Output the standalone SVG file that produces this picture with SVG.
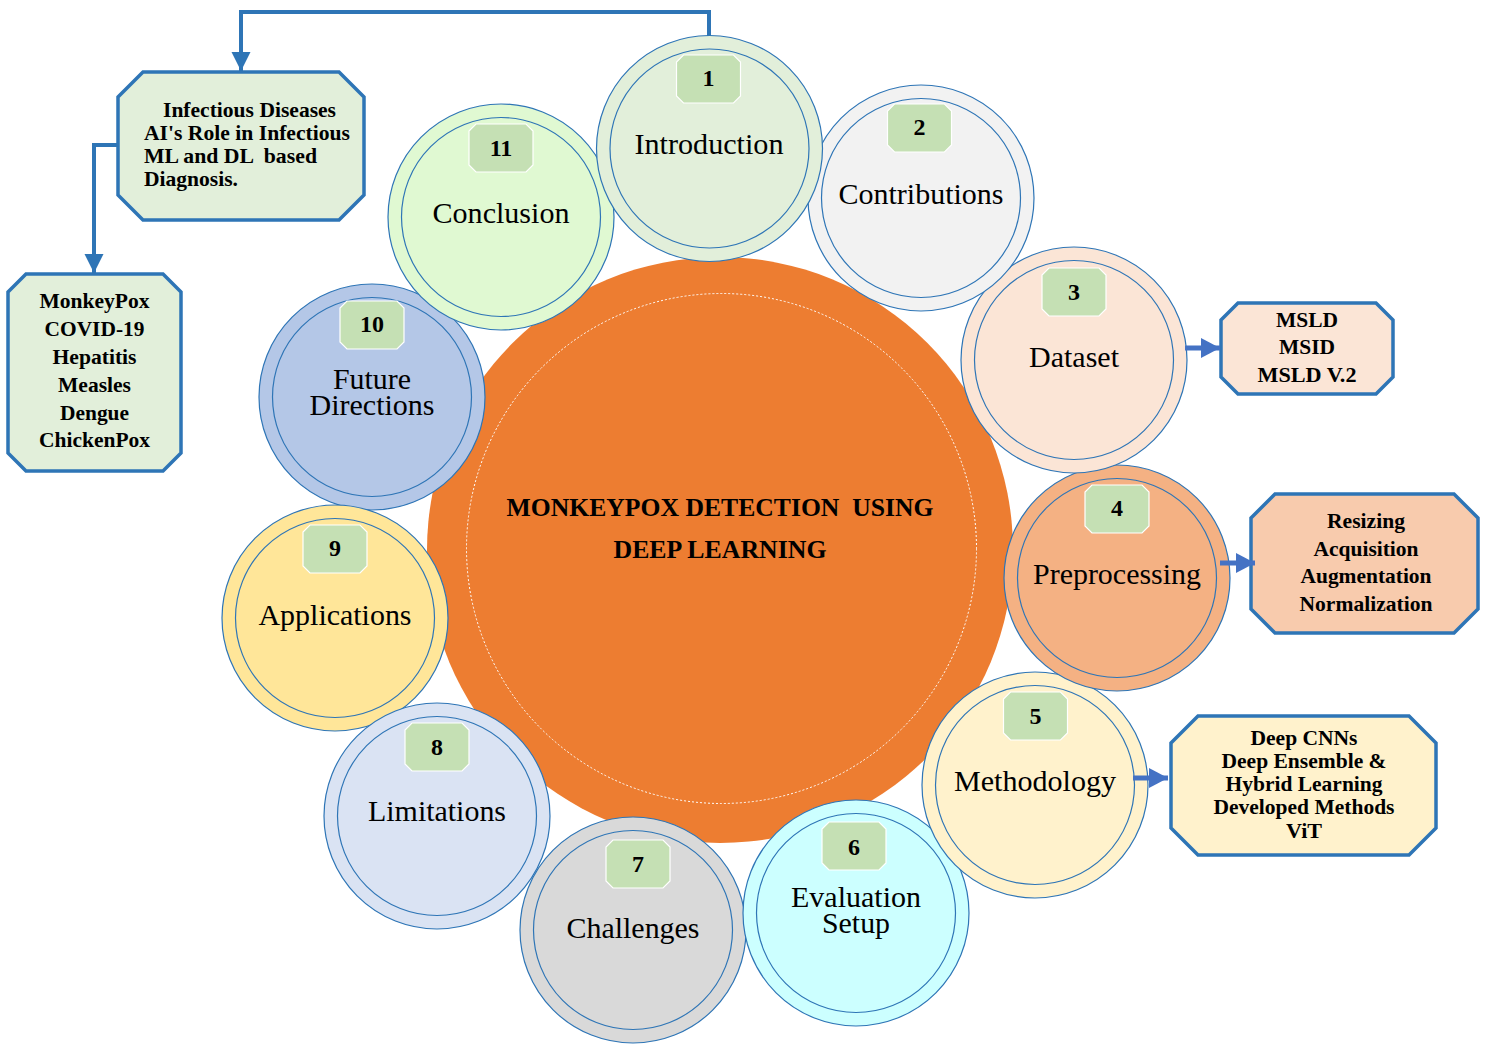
<svg xmlns="http://www.w3.org/2000/svg" width="1489" height="1044" viewBox="0 0 1489 1044">
<style>
text{font-family:"Liberation Serif","DejaVu Serif","Times New Roman",serif;fill:#000}
.ring{stroke:#2E75B6;stroke-width:1.2}
.lbl{font-size:30px;text-anchor:middle}
.num{font-size:24px;font-weight:bold;text-anchor:middle}
.box{stroke:#2E75B6;stroke-width:3.5}
.bt{font-size:21.5px;font-weight:bold}
.c{text-anchor:middle}
.title{font-size:25px;font-weight:bold;text-anchor:middle}
.conn{fill:none;stroke:#2E75B6;stroke-width:4}
.conn2{fill:none;stroke:#4472C4;stroke-width:5}
.badge{fill:#C5E0B4;stroke:#FFFFFF;stroke-width:1.2}
</style>
<defs>
<polygon id="badge" class="badge" points="-25,0 25,0 32,7 32,41 25,48 -25,48 -32,41 -32,7"/>
<marker id="ah1" markerUnits="userSpaceOnUse" markerWidth="20" markerHeight="20" refX="19" refY="10" orient="auto" viewBox="0 0 20 20">
<polygon points="0,0.5 19,10 0,19.5" fill="#2E75B6"/>
</marker>
<marker id="ah2" markerUnits="userSpaceOnUse" markerWidth="20" markerHeight="21" refX="19" refY="10.5" orient="auto" viewBox="0 0 20 21">
<polygon points="0,0.5 19,10.5 0,20.5" fill="#4472C4"/>
</marker>
</defs>
<rect width="1489" height="1044" fill="#FFFFFF"/>

<g id="center">
<circle cx="720" cy="550" r="293" fill="#ED7D31"/>
<circle cx="721.5" cy="548.5" r="255" fill="none" stroke="#FFFFFF" stroke-width="1" stroke-dasharray="2 2"/>
<text class="title" x="720" y="516" textLength="427" lengthAdjust="spacingAndGlyphs" xml:space="preserve">MONKEYPOX DETECTION  USING</text>
<text class="title" x="720" y="558" textLength="213" lengthAdjust="spacingAndGlyphs">DEEP LEARNING</text>
</g>

<g id="node10">
<circle class="ring" cx="372" cy="397" r="113" fill="#B4C7E7"/>
<circle class="ring" cx="372" cy="397" r="99.5" fill="#B4C7E7"/>
<use href="#badge" x="372" y="301"/>
<text class="num" x="372" y="332">10</text>
<text class="lbl" x="372" y="389" textLength="78" lengthAdjust="spacingAndGlyphs">Future</text>
<text class="lbl" x="372" y="415" textLength="125" lengthAdjust="spacingAndGlyphs">Directions</text>
</g>
<g id="node11">
<circle class="ring" cx="501" cy="217" r="113" fill="#E0F9D2"/>
<circle class="ring" cx="501" cy="217" r="99.5" fill="#E0F9D2"/>
<use href="#badge" x="501" y="124"/>
<text class="num" x="501" y="156">11</text>
<text class="lbl" x="501" y="223" textLength="137" lengthAdjust="spacingAndGlyphs">Conclusion</text>
</g>
<g id="node9">
<circle class="ring" cx="335" cy="618" r="113" fill="#FFE699"/>
<circle class="ring" cx="335" cy="618" r="99.5" fill="#FFE699"/>
<use href="#badge" x="335" y="525"/>
<text class="num" x="335" y="556">9</text>
<text class="lbl" x="335" y="625" textLength="153" lengthAdjust="spacingAndGlyphs">Applications</text>
</g>
<g id="node8">
<circle class="ring" cx="437" cy="816" r="113" fill="#DAE3F3"/>
<circle class="ring" cx="437" cy="816" r="99.5" fill="#DAE3F3"/>
<use href="#badge" x="437" y="723"/>
<text class="num" x="437" y="755">8</text>
<text class="lbl" x="437" y="821" textLength="138" lengthAdjust="spacingAndGlyphs">Limitations</text>
</g>
<g id="node7">
<circle class="ring" cx="633" cy="930" r="113" fill="#D9D9D9"/>
<circle class="ring" cx="633" cy="930" r="99.5" fill="#D9D9D9"/>
<use href="#badge" x="638" y="840"/>
<text class="num" x="638" y="872">7</text>
<text class="lbl" x="633" y="938" textLength="133" lengthAdjust="spacingAndGlyphs">Challenges</text>
</g>
<g id="node6">
<circle class="ring" cx="856" cy="913" r="113" fill="#CCFFFF"/>
<circle class="ring" cx="856" cy="913" r="99.5" fill="#CCFFFF"/>
<use href="#badge" x="854" y="822"/>
<text class="num" x="854" y="855">6</text>
<text class="lbl" x="856" y="907" textLength="130" lengthAdjust="spacingAndGlyphs">Evaluation</text>
<text class="lbl" x="856" y="933" textLength="68" lengthAdjust="spacingAndGlyphs">Setup</text>
</g>
<g id="node5">
<circle class="ring" cx="1035" cy="785" r="113" fill="#FFF2CC"/>
<circle class="ring" cx="1035" cy="785" r="99.5" fill="#FFF2CC"/>
<use href="#badge" x="1035.5" y="692"/>
<text class="num" x="1035.5" y="724">5</text>
<text class="lbl" x="1035" y="791" textLength="162" lengthAdjust="spacingAndGlyphs">Methodology</text>
</g>
<g id="node4">
<circle class="ring" cx="1117" cy="578" r="113" fill="#F4B183"/>
<circle class="ring" cx="1117" cy="578" r="99.5" fill="#F4B183"/>
<use href="#badge" x="1117" y="485"/>
<text class="num" x="1117" y="516">4</text>
<text class="lbl" x="1117" y="584" textLength="168" lengthAdjust="spacingAndGlyphs">Preprocessing</text>
</g>
<g id="node3">
<circle class="ring" cx="1074" cy="360" r="113" fill="#FBE5D6"/>
<circle class="ring" cx="1074" cy="360" r="99.5" fill="#FBE5D6"/>
<use href="#badge" x="1074" y="268"/>
<text class="num" x="1074" y="300">3</text>
<text class="lbl" x="1074" y="367" textLength="90" lengthAdjust="spacingAndGlyphs">Dataset</text>
</g>
<g id="node2">
<circle class="ring" cx="921" cy="198" r="113" fill="#F2F2F2"/>
<circle class="ring" cx="921" cy="198" r="99.5" fill="#F2F2F2"/>
<use href="#badge" x="919.5" y="104"/>
<text class="num" x="919.5" y="135">2</text>
<text class="lbl" x="921" y="204" textLength="165" lengthAdjust="spacingAndGlyphs">Contributions</text>
</g>
<g id="node1">
<circle class="ring" cx="709.5" cy="148.5" r="113" fill="#E2EFDA"/>
<circle class="ring" cx="709.5" cy="148.5" r="99.5" fill="#E2EFDA"/>
<use href="#badge" x="708.5" y="55"/>
<text class="num" x="708.5" y="86">1</text>
<text class="lbl" x="709" y="154" textLength="149" lengthAdjust="spacingAndGlyphs">Introduction</text>
</g>

<g id="boxA">
<polygon class="box" fill="#E2EFDA" points="143,72 339,72 364,97 364,195 339,220 143,220 118,195 118,97"/>
<text class="bt" x="163" y="117" textLength="173" lengthAdjust="spacingAndGlyphs">Infectious Diseases</text>
<text class="bt" x="144" y="140" textLength="206" lengthAdjust="spacingAndGlyphs">AI's Role in Infectious</text>
<text class="bt" x="144" y="163" textLength="173" lengthAdjust="spacingAndGlyphs" xml:space="preserve">ML and DL  based</text>
<text class="bt" x="144" y="186" textLength="94" lengthAdjust="spacingAndGlyphs">Diagnosis.</text>
</g>
<g id="boxB">
<polygon class="box" fill="#E2EFDA" points="26,274 163,274 181,292 181,453 163,471 26,471 8,453 8,292"/>
<text class="bt c" x="94.5" y="308" textLength="110" lengthAdjust="spacingAndGlyphs">MonkeyPox</text>
<text class="bt c" x="94.5" y="336" textLength="100" lengthAdjust="spacingAndGlyphs">COVID-19</text>
<text class="bt c" x="94.5" y="364" textLength="84" lengthAdjust="spacingAndGlyphs">Hepatitis</text>
<text class="bt c" x="94.5" y="392" textLength="73" lengthAdjust="spacingAndGlyphs">Measles</text>
<text class="bt c" x="94.5" y="420" textLength="69" lengthAdjust="spacingAndGlyphs">Dengue</text>
<text class="bt c" x="94.5" y="447" textLength="111" lengthAdjust="spacingAndGlyphs">ChickenPox</text>
</g>
<g id="boxC">
<polygon class="box" fill="#FBE5D6" points="1238,303 1376,303 1393,320 1393,377 1376,394 1238,394 1221,377 1221,320"/>
<text class="bt c" x="1307" y="327" textLength="62" lengthAdjust="spacingAndGlyphs">MSLD</text>
<text class="bt c" x="1307" y="354" textLength="56" lengthAdjust="spacingAndGlyphs">MSID</text>
<text class="bt c" x="1307" y="382" textLength="99" lengthAdjust="spacingAndGlyphs">MSLD V.2</text>
</g>
<g id="boxD">
<polygon class="box" fill="#F8CBAD" points="1275,494 1454,494 1478,518 1478,609 1454,633 1275,633 1251,609 1251,518"/>
<text class="bt c" x="1366" y="528" textLength="78" lengthAdjust="spacingAndGlyphs">Resizing</text>
<text class="bt c" x="1366" y="556" textLength="105" lengthAdjust="spacingAndGlyphs">Acquisition</text>
<text class="bt c" x="1366" y="583" textLength="131" lengthAdjust="spacingAndGlyphs">Augmentation</text>
<text class="bt c" x="1366" y="611" textLength="133" lengthAdjust="spacingAndGlyphs">Normalization</text>
</g>
<g id="boxE">
<polygon class="box" fill="#FFF2CC" points="1198,716 1409,716 1436,743 1436,828 1409,855 1198,855 1171,828 1171,743"/>
<text class="bt c" x="1304" y="745" textLength="107" lengthAdjust="spacingAndGlyphs">Deep CNNs</text>
<text class="bt c" x="1304" y="768" textLength="165" lengthAdjust="spacingAndGlyphs">Deep Ensemble &amp;</text>
<text class="bt c" x="1304" y="791" textLength="157" lengthAdjust="spacingAndGlyphs">Hybrid Learning</text>
<text class="bt c" x="1304" y="814" textLength="181" lengthAdjust="spacingAndGlyphs">Developed Methods</text>
<text class="bt c" x="1304" y="838" textLength="36" lengthAdjust="spacingAndGlyphs">ViT</text>
</g>

<g id="connectors">
<path class="conn" d="M709,36 V12 H241 V71" marker-end="url(#ah1)"/>
<path class="conn" d="M118,145 H94 V273" marker-end="url(#ah1)"/>
<path class="conn2" d="M1185,348 H1220" marker-end="url(#ah2)"/>
<path class="conn2" d="M1220,563 H1255" marker-end="url(#ah2)"/>
<path class="conn2" d="M1133,778 H1168" marker-end="url(#ah2)"/>
</g>
</svg>
